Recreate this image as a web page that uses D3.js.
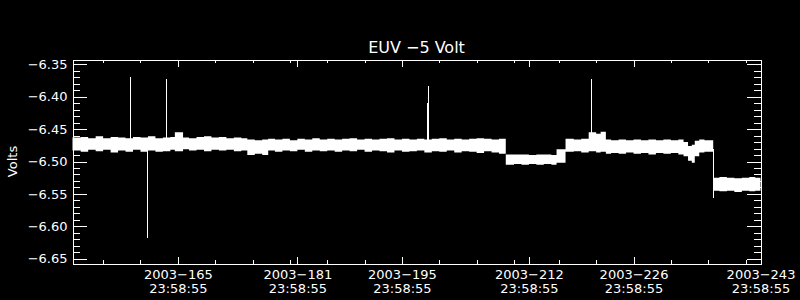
<!DOCTYPE html>
<html><head><meta charset="utf-8">
<script src="https://cdn.jsdelivr.net/npm/d3@7"></script>
<style>
html,body{margin:0;padding:0;background:#000;}
svg{display:block;}
text{font-family:"DejaVu Sans",sans-serif;fill:#fff;}
</style></head>
<body>
<svg id="chart" width="800" height="300"></svg>
<script>
// ---- data ----
const title = "EUV \u22125 Volt";
const yLabel = "Volts";
const xMajorDays = [165, 181, 195, 212, 226, 243];
const xMajorLabels = ["2003\u2212165", "2003\u2212181", "2003\u2212195", "2003\u2212212", "2003\u2212226", "2003\u2212243"];
const xTimeLabel = "23:58:55";
const xMinorDays = [155, 160, 170, 175, 180, 185, 190, 200, 205, 210, 216, 221, 231, 236, 241];
const yMajor = [-6.65, -6.60, -6.55, -6.50, -6.45, -6.40, -6.35];
const yMinor = [-6.64, -6.63, -6.62, -6.61, -6.59, -6.58, -6.57, -6.56, -6.54, -6.53, -6.52, -6.51,
                -6.49, -6.48, -6.47, -6.46, -6.44, -6.43, -6.42, -6.41, -6.39, -6.38, -6.37, -6.36];

const sampleDay = [150.9,152,153,154,155,156,157,158,159,160,161,162,163,164,164.6,165.7,166.5,167.5,168.5,169.5,
  170.5,171.5,172.5,173.5,174.3,175.3,176.3,177.1,178,179,180,181,182,183,184,185,186,187,188,189,190,191,192,193,
  194,195,196,197,198,199,200,201,202,203,204,205,206,207,208,208.9,210,211,212,213,214,215,215.7,216.9,218,219,
  220,221,221.6,222.3,223,224,225,226,227,228,229,230,231,232,232.7,233.3,233.8,234.2,234.8,235.5,236.67,237.5,
  238.5,239.5,240.5,241.5,242.3,243];
const bandTop = [-6.463,-6.462,-6.464,-6.461,-6.464,-6.462,-6.463,-6.464,-6.462,-6.463,-6.461,-6.464,-6.463,-6.462,-6.455,-6.463,-6.464,-6.462,-6.461,-6.463,
  -6.462,-6.464,-6.463,-6.464,-6.466,-6.467,-6.466,-6.465,-6.466,-6.465,-6.467,-6.465,-6.466,-6.464,-6.466,-6.465,-6.466,-6.465,-6.464,-6.466,-6.465,-6.466,-6.465,-6.464,
  -6.466,-6.465,-6.466,-6.465,-6.466,-6.465,-6.464,-6.466,-6.465,-6.466,-6.465,-6.464,-6.465,-6.466,-6.465,-6.489,-6.489,-6.489,-6.490,-6.489,-6.489,-6.490,-6.481,-6.465,-6.466,-6.465,
  -6.455,-6.457,-6.454,-6.466,-6.467,-6.466,-6.467,-6.466,-6.467,-6.466,-6.467,-6.466,-6.467,-6.466,-6.470,-6.476,-6.474,-6.468,-6.466,-6.467,-6.525,-6.524,
  -6.525,-6.526,-6.525,-6.524,-6.525,-6.525];
const bandBottom = [-6.483,-6.485,-6.482,-6.484,-6.482,-6.486,-6.483,-6.485,-6.482,-6.485,-6.483,-6.485,-6.484,-6.482,-6.484,-6.481,-6.483,-6.482,-6.484,-6.482,
  -6.483,-6.482,-6.484,-6.483,-6.490,-6.488,-6.490,-6.483,-6.485,-6.483,-6.484,-6.482,-6.485,-6.483,-6.484,-6.483,-6.485,-6.483,-6.484,-6.482,-6.485,-6.483,-6.484,-6.486,
  -6.483,-6.485,-6.484,-6.483,-6.486,-6.484,-6.485,-6.483,-6.486,-6.484,-6.485,-6.487,-6.484,-6.486,-6.488,-6.505,-6.504,-6.505,-6.504,-6.505,-6.504,-6.505,-6.502,-6.485,-6.484,-6.486,
  -6.484,-6.486,-6.485,-6.488,-6.487,-6.488,-6.486,-6.488,-6.487,-6.489,-6.487,-6.488,-6.487,-6.489,-6.492,-6.499,-6.502,-6.492,-6.486,-6.485,-6.545,-6.546,
  -6.545,-6.547,-6.545,-6.546,-6.545,-6.545];

const spikeDay   = [158.57, 160.85, 163.39, 198.30, 198.43, 220.30, 236.67];
const spikeBase  = [-6.465, -6.482, -6.465, -6.468, -6.468, -6.468, -6.480];
const spikeValue = [-6.369, -6.618, -6.373, -6.410, -6.384, -6.373, -6.556];

// ---- layout ----
const L = 72.5, R = 760.5, T = 59.5, B = 263.5;
const svg = d3.select("#chart");
svg.append("rect").attr("width", 800).attr("height", 300).attr("fill", "#000");

const x = d3.scaleLinear().domain([150.9, 243]).range([L, R]);
const y = d3.scaleLinear().domain([-6.6575, -6.3425]).range([B, T]);

// ---- band ----
const band = sampleDay.map((d, i) => ({d, t: bandTop[i], b: bandBottom[i]}));
svg.append("path").datum(band)
  .attr("d", d3.area().x(p => x(p.d)).y0(p => y(p.b)).y1(p => y(p.t)).curve(d3.curveStepAfter))
  .attr("fill", "#fff").attr("stroke", "none");

// spikes
svg.append("g").selectAll("line").data(spikeDay).join("line")
  .attr("x1", (d) => Math.round(x(d)) + 0.5).attr("x2", (d) => Math.round(x(d)) + 0.5)
  .attr("y1", (d, i) => y(spikeBase[i])).attr("y2", (d, i) => y(spikeValue[i]))
  .attr("stroke", "#fff").attr("stroke-width", 1).attr("shape-rendering", "crispEdges");

// ---- axes ----
function styleAxis(g) {
  g.selectAll("path,line").attr("stroke", "#fff").attr("shape-rendering", "crispEdges");
  g.selectAll("text").attr("fill", "#fff").attr("font-family", "DejaVu Sans, sans-serif");
}

// left
svg.append("g").attr("transform", `translate(${L},0)`)
  .call(d3.axisLeft(y).tickValues(yMajor).tickSizeInner(-14).tickSizeOuter(0).tickPadding(5)
    .tickFormat(d => d3.format(".2f")(d).replace("-", "\u2212")))
  .call(styleAxis)
  .call(g => g.selectAll("text").attr("font-size", 13));
svg.append("g").attr("transform", `translate(${L},0)`)
  .call(d3.axisLeft(y).tickValues(yMinor).tickSize(-7).tickFormat(""))
  .call(styleAxis);
// right
svg.append("g").attr("transform", `translate(${R},0)`)
  .call(d3.axisRight(y).tickValues(yMajor).tickSizeInner(-14).tickSizeOuter(0).tickFormat(""))
  .call(styleAxis);
svg.append("g").attr("transform", `translate(${R},0)`)
  .call(d3.axisRight(y).tickValues(yMinor).tickSize(-7).tickFormat(""))
  .call(styleAxis);

// bottom
const bottom = svg.append("g").attr("transform", `translate(0,${B})`)
  .call(d3.axisBottom(x).tickValues(xMajorDays).tickSizeInner(-7).tickSizeOuter(0)
    .tickFormat((d, i) => xMajorLabels[i]))
  .call(styleAxis);
bottom.selectAll(".tick text").each(function (d, i) {
  const t = d3.select(this);
  t.text(null).attr("y", 0).attr("dy", null).attr("font-size", 13);
  t.append("tspan").attr("x", 0).attr("y", 15).text(xMajorLabels[i]);
  t.append("tspan").attr("x", 0).attr("y", 29).text(xTimeLabel);
});
svg.append("g").attr("transform", `translate(0,${B})`)
  .call(d3.axisBottom(x).tickValues(xMinorDays).tickSize(-3.5).tickFormat(""))
  .call(styleAxis);
// top
svg.append("g").attr("transform", `translate(0,${T})`)
  .call(d3.axisTop(x).tickValues(xMajorDays).tickSizeInner(-7).tickSizeOuter(0).tickFormat(""))
  .call(styleAxis);
svg.append("g").attr("transform", `translate(0,${T})`)
  .call(d3.axisTop(x).tickValues(xMinorDays).tickSize(-3.5).tickFormat(""))
  .call(styleAxis);

// title & label
svg.append("text").attr("x", (L + R) / 2).attr("y", 53).attr("text-anchor", "middle")
  .attr("font-size", 16).text(title);
svg.append("text").attr("transform", `translate(17,${(T + B) / 2}) rotate(-90)`)
  .attr("text-anchor", "middle").attr("font-size", 13).text(yLabel);
</script>
</body></html>
